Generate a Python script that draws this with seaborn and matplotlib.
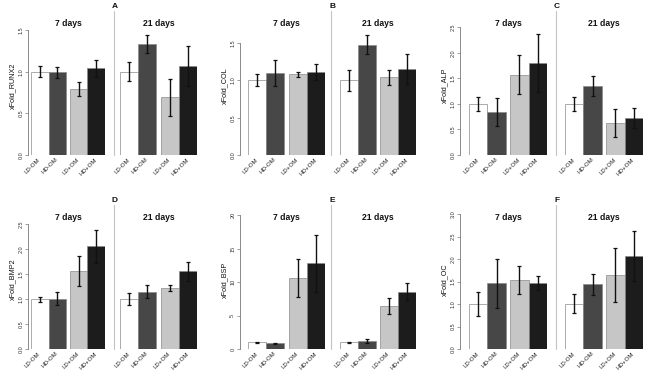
import numpy as np
import pandas as pd
import matplotlib
matplotlib.use("Agg")
import matplotlib.pyplot as plt
import matplotlib.transforms as mtransforms
from matplotlib.lines import Line2D
import seaborn as sns

# ---- data (fold change vs LD-OM, mean and standard error) ----
conditions = ["LD-OM", "HD-OM", "LD+OM", "HD+OM"]
density = ["LD", "HD", "LD", "HD"]
medium = ["-OM", "-OM", "+OM", "+OM"]
days = ["7 days", "21 days"]
genes = ["RUNX2", "COL", "ALP", "BMP2", "BSP", "OC"]
letters = ["A", "B", "C", "D", "E", "F"]

runx2_7d = [1.00, 0.99, 0.79, 1.04]
runx2_7d_se = [0.065, 0.07, 0.085, 0.105]
runx2_21d = [1.00, 1.33, 0.69, 1.07]
runx2_21d_se = [0.11, 0.105, 0.22, 0.24]

col_7d = [1.00, 1.10, 1.08, 1.115]
col_7d_se = [0.08, 0.18, 0.03, 0.105]
col_21d = [1.00, 1.48, 1.04, 1.15]
col_21d_se = [0.14, 0.13, 0.10, 0.20]

alp_7d = [1.00, 0.84, 1.57, 1.80]
alp_7d_se = [0.14, 0.28, 0.38, 0.56]
alp_21d = [1.00, 1.35, 0.63, 0.72]
alp_21d_se = [0.14, 0.20, 0.27, 0.20]

bmp2_7d = [1.00, 1.01, 1.56, 2.06]
bmp2_7d_se = [0.05, 0.13, 0.30, 0.33]
bmp2_21d = [1.00, 1.15, 1.22, 1.56]
bmp2_21d_se = [0.12, 0.13, 0.06, 0.19]

bsp_7d = [1.00, 0.85, 10.6, 12.8]
bsp_7d_se = [0.1, 0.1, 2.8, 4.3]
bsp_21d = [1.00, 1.2, 6.5, 8.6]
bsp_21d_se = [0.1, 0.3, 1.2, 1.3]

oc_7d = [1.00, 1.46, 1.54, 1.47]
oc_7d_se = [0.27, 0.55, 0.31, 0.15]
oc_21d = [1.00, 1.43, 1.64, 2.05]
oc_21d_se = [0.21, 0.23, 0.60, 0.55]

means = {"RUNX2": [runx2_7d, runx2_21d], "COL": [col_7d, col_21d],
         "ALP": [alp_7d, alp_21d], "BMP2": [bmp2_7d, bmp2_21d],
         "BSP": [bsp_7d, bsp_21d], "OC": [oc_7d, oc_21d]}
errors = {"RUNX2": [runx2_7d_se, runx2_21d_se], "COL": [col_7d_se, col_21d_se],
          "ALP": [alp_7d_se, alp_21d_se], "BMP2": [bmp2_7d_se, bmp2_21d_se],
          "BSP": [bsp_7d_se, bsp_21d_se], "OC": [oc_7d_se, oc_21d_se]}

# ---- layout (pixels) ----
W, H = 664, 370
bar_colors = ["white", "#474747", "#c6c6c6", "#1c1c1c"]
col_off = [0, 215, 430]
col_layout = [
    {"axis": 28, "bars": [(31, 105), (120, 197)], "div": 114},
    {"axis": 25, "bars": [(33, 110), (125, 201)], "div": 116},
    {"axis": 30, "bars": [(39, 117), (135, 213)], "div": 126},
]
row_base = [155, 349]
row_top = [20, 214]
title_y = [23, 217]
letter_y = [6, 200]
line_top = [11, 205]
y_max = {"RUNX2": 1.62, "COL": 1.81, "ALP": 2.64, "BMP2": 2.70, "BSP": 20.2, "OC": 2.98}
y_tick_top = {"RUNX2": 1.5, "COL": 1.5, "ALP": 2.5, "BMP2": 2.5, "BSP": 20, "OC": 3.0}
y_step = {"RUNX2": 0.5, "COL": 0.5, "ALP": 0.5, "BMP2": 0.5, "BSP": 5, "OC": 0.5}

sns.set_style("white")
plt.rcParams["font.family"] = ["Liberation Sans", "DejaVu Sans"]

fig = plt.figure(figsize=(W / 100, H / 100), dpi=100)
shift = mtransforms.ScaledTranslation(5 / 100, 0, fig.dpi_scale_trans)


def fx(x):
    return x / W


def fy(y):
    return 1 - y / H


for i, gene in enumerate(genes):
    row, col = divmod(i, 3)
    ox = col_off[col]
    lay = col_layout[col]
    base, top = row_base[row], row_top[row]

    for d in range(2):
        l, r = lay["bars"][d]
        ax = fig.add_axes([fx(ox + l), fy(base), (r - l) / W, (base - top) / H])
        df = pd.DataFrame({"medium": medium, "density": density,
                           "value": means[gene][d]})
        sns.barplot(data=df, x="medium", y="value", hue="density",
                    order=["-OM", "+OM"], hue_order=["LD", "HD"],
                    width=0.9, errorbar=None, legend=False, ax=ax,
                    edgecolor="#8a8a8a", linewidth=0.5)
        bars = sorted(ax.patches, key=lambda p: p.get_x())
        for b, c in zip(bars, bar_colors):
            b.set_facecolor(c)
        xs = [b.get_x() + b.get_width() / 2 for b in bars]
        ax.errorbar(xs, means[gene][d], yerr=errors[gene][d], fmt="none",
                    ecolor="#111111", elinewidth=1.0, capsize=1.3,
                    capthick=0.9, zorder=5, clip_on=False)
        for sp in ax.spines.values():
            sp.set_visible(False)
        if d == 0:
            # position the spine first: set_position resets the ticks
            ax.spines["left"].set_visible(True)
            ax.spines["left"].set_position(("outward", (l - lay["axis"]) * 0.72))
            ax.spines["left"].set_bounds(0, y_tick_top[gene])
            ax.spines["left"].set_color("#777777")
            ax.spines["left"].set_linewidth(0.6)

        ax.set_xlim(-0.45, 1.45)
        ax.set_ylim(0, y_max[gene])
        ax.set_xlabel("")
        ax.set_ylabel("")
        ax.set_xticks(xs)
        ax.set_xticklabels(conditions, rotation=45, ha="right", va="center",
                           rotation_mode="anchor", fontsize=4.4, color="#222222")
        for lab in ax.get_xticklabels():
            lab.set_transform(lab.get_transform() + shift)
        ax.tick_params(axis="x", length=0, pad=2.6)

        if d == 0:
            ticks = np.arange(0, y_tick_top[gene] + 1e-9, y_step[gene])
            if y_step[gene] >= 1:
                labels = [f"{t:.0f}" for t in ticks]
            else:
                labels = [f"{t:.1f}" for t in ticks]
            ax.set_yticks(ticks)
            ax.set_yticklabels(labels, rotation=90, va="center", ha="right",
                               fontsize=4.0, color="#333333")
            ax.tick_params(axis="y", left=True, length=2.2, width=0.5,
                           pad=1.2, color="#777777")
        else:
            ax.set_yticks([])

        fig.text(fx(ox + (l + r) / 2), fy(title_y[row]), days[d],
                 ha="center", va="center", fontsize=6.2, fontweight="bold",
                 color="#111111")

    # divider between the two time points
    dx = ox + lay["div"]
    fig.add_artist(Line2D([fx(dx), fx(dx)], [fy(line_top[row]), fy(base)],
                          color="#c4c4c4", lw=0.8))
    fig.text(fx(dx + 1), fy(letter_y[row]), letters[i], ha="center",
             va="center", fontsize=6, fontweight="bold", color="#111111")
    fig.text(fx(ox + lay["axis"] - 15), fy((base + top) / 2 - 2),
             "xFold_" + gene, rotation=90, ha="center", va="center",
             fontsize=5.2, color="#111111")

fig.savefig("out.png", dpi=100, facecolor="white")
